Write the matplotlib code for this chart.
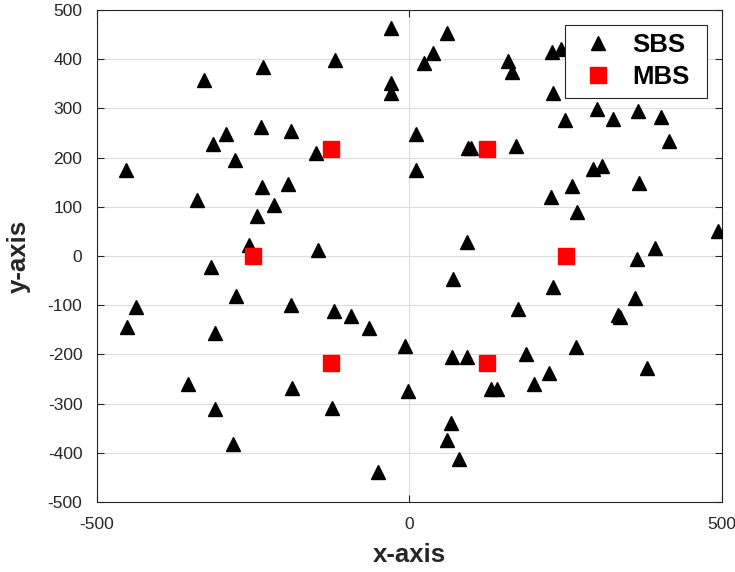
import matplotlib
matplotlib.use("Agg")
import matplotlib.pyplot as plt

sbs_x = [-453, -328, -235, -29, -119, -29, -29, -238, -190, -293, -315, -279, -150, 10, 10,
         -236, -194, -340, -216, -244, -256, -146,
         60, 38, 24, 158, 164, 229, 243, 230, 301, 249, 326, 366, 403, 415, 94, 98, 170,
         294, 309, 261, 227, 367, 269, 494, 93, 393, 365,
         -318, -277, -437, -452, -189, -120, -94, -64, -7, -311, -354, -188, -3, -311, -124,
         -283, -51,
         69, 230, 361, 174, 334, 337, 267, 68, 93, 186, 224, 380, 200, 130, 141, 66, 60, 80]
sbs_y = [175, 358, 385, 463, 398, 352, 332, 263, 255, 247, 228, 195, 209, 247, 175,
         140, 146, 114, 104, 81, 22, 12,
         453, 413, 392, 397, 373, 415, 420, 331, 298, 276, 278, 295, 283, 234, 220, 220, 224,
         176, 183, 143, 120, 149, 90, 51, 29, 16, -7,
         -23, -81, -104, -144, -100, -112, -122, -147, -182, -156, -260, -269, -274, -311, -308,
         -382, -440,
         -47, -62, -85, -108, -119, -125, -184, -206, -205, -199, -237, -227, -261, -270, -270,
         -339, -375, -413]
mbs_x = [-125, 125, -250, 250, -125, 125]
mbs_y = [217, 217, 0, 0, -217, -217]

x_ticks = [-500, 0, 500]
y_ticks = [-500, -400, -300, -200, -100, 0, 100, 200, 300, 400, 500]

plt.rcParams['font.family'] = ['Liberation Sans', 'DejaVu Sans']
plt.rcParams['axes.unicode_minus'] = False

fig = plt.figure(figsize=(7.35, 5.72), dpi=100)
ax = fig.add_axes([0.132, 0.1224, 0.850, 0.8601])

ax.plot(sbs_x, sbs_y, linestyle='none', marker='^', markersize=10.5,
        markerfacecolor='black', markeredgecolor='black', label='SBS', zorder=3)
ax.plot(mbs_x, mbs_y, linestyle='none', marker='s', markersize=11,
        markerfacecolor='red', markeredgecolor='red', label='MBS', zorder=3)

ax.set_xlim(-500, 500)
ax.set_ylim(-500, 500)
ax.set_xticks(x_ticks)
ax.set_yticks(y_ticks)
ax.tick_params(direction='in', top=True, right=True, labelsize=12.5,
               colors='#262626', length=5, width=0.8, pad=10.5)
for s in ax.spines.values():
    s.set_color('#262626')
    s.set_linewidth(0.8)
ax.grid(True, color='#dcdcdc', linewidth=0.8, zorder=0)
ax.set_axisbelow(True)

ax.set_xlabel('x-axis', fontsize=18.5, fontweight='bold', color='#262626', labelpad=8)
ax.set_ylabel('y-axis', fontsize=18.5, fontweight='bold', color='#262626', labelpad=12)

leg = ax.legend(loc='upper left', bbox_to_anchor=(0.7488, 0.8, 0.2272, 0.1695),
                mode='expand', fancybox=False,
                framealpha=1, edgecolor='#262626', prop={'size': 18.5, 'weight': 'bold'},
                handlelength=1.95, handletextpad=0.35, borderpad=0.32, labelspacing=0.32,
                borderaxespad=0)
leg.get_frame().set_linewidth(0.8)

fig.savefig('out.png', dpi=100)
